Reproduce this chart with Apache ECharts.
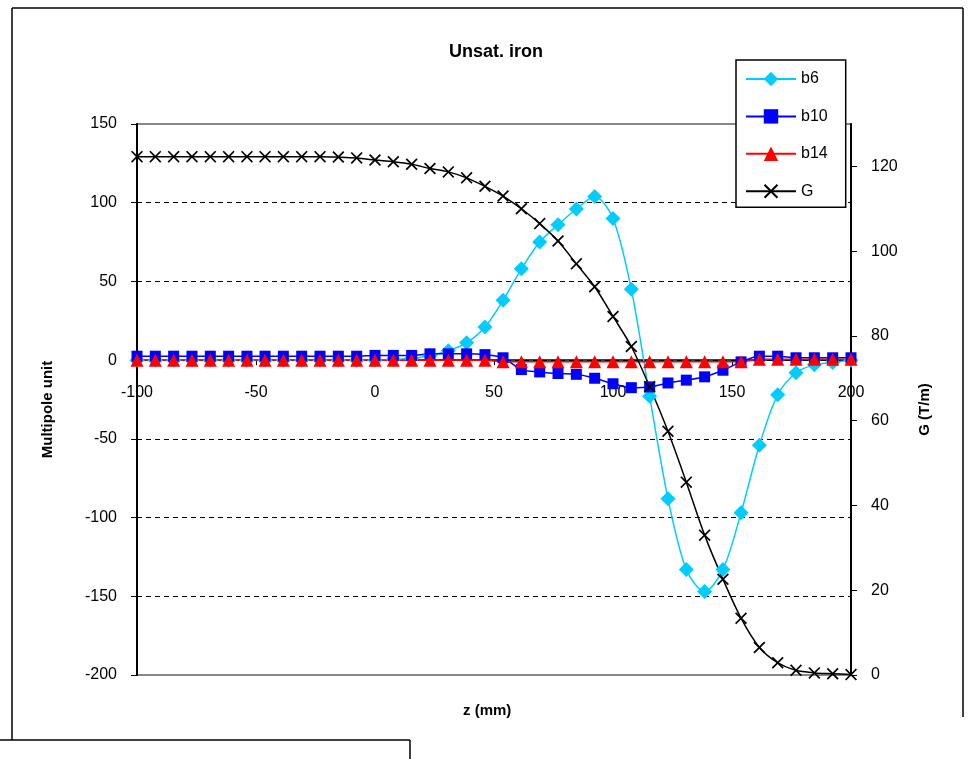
<!DOCTYPE html>
<html>
<head>
<meta charset="utf-8">
<script src="https://cdn.jsdelivr.net/npm/echarts@6/dist/echarts.min.js"></script>
<style>html,body{margin:0;padding:0;background:#fff;}#c{width:973px;height:759px;}</style>
</head>
<body>
<div id="c"></div>
<script>
// z positions (mm)
var zValues = [-100, -92.3, -84.6, -76.9, -69.2, -61.5, -53.8, -46.2, -38.5, -30.8,
  -23.1, -15.4, -7.7, 0, 7.7, 15.4, 23.1, 30.8, 38.5, 46.2,
  53.8, 61.5, 69.2, 76.9, 84.6, 92.3, 100, 107.7, 115.4, 123.1,
  130.8, 138.5, 146.2, 153.8, 161.5, 169.2, 176.9, 184.6, 192.3, 200];
var b6 = [0, 0, 0, 0, 0, 0, 0, 0, 0, 0,
  0, 0, 0, 0, 0.5, 1, 3, 6, 11, 21,
  38, 58, 75, 86, 96, 104, 90, 45, -23, -88,
  -133, -147, -133, -97, -54, -22, -8, -3, -1.5, 0];
var b10 = [2.5, 2.5, 2.5, 2.5, 2.5, 2.5, 2.5, 2.5, 2.5, 2.5,
  2.5, 2.5, 2.5, 3, 3, 3, 4, 4, 4, 3.5,
  1.5, -6, -7.5, -8.5, -9, -11.5, -15, -17.5, -17, -14.5,
  -12.7, -10.6, -6.4, -1.1, 2.5, 2.5, 1.5, 1.5, 1.5, 1.5];
var b14 = [0, 0, 0, 0, 0, 0, 0, 0, 0, 0,
  0, 0, 0, 0, 0, 0, 0, 0, 0, 0,
  -1, -1, -1, -1, -1, -1, -1, -1, -1, -1,
  -1, -1, -1, -1, 0.5, 0.5, 0.5, 0.5, 0.5, 0.5];
var G = [122.3, 122.3, 122.3, 122.3, 122.3, 122.3, 122.3, 122.3, 122.3, 122.3,
  122.3, 122.2, 122, 121.5, 121.1, 120.5, 119.5, 118.7, 117.3, 115.3,
  113, 110, 106.5, 102.4, 97, 91.6, 84.6, 77.5, 68, 57.5,
  45.5, 33, 22.6, 13.4, 6.5, 2.9, 1.1, 0.5, 0.3, 0.1];
var xTicks = {min: -100, max: 200, interval: 50};
var yLeftTicks = {min: -200, max: 150, interval: 50};
var yRightTicks = {min: 0, max: 130, interval: 20};

function pairs(vals) { return zValues.map(function (z, i) { return [z, vals[i]]; }); }

var crossPath = 'path://M0,1 L1,0 L5,4 L9,0 L10,1 L6,5 L10,9 L9,10 L5,6 L1,10 L0,9 L4,5 Z';
var FONT = '"Liberation Sans", Arial, sans-serif';

var GRID = {left: 137, right: 122, top: 124, bottom: 84};
var plotH = 759 - GRID.top - GRID.bottom;
// x axis crosses the left value axis at zero
var xAxisOffset = -plotH * (0 - yLeftTicks.min) / (yLeftTicks.max - yLeftTicks.min);

var chart = echarts.init(document.getElementById('c'), null, {renderer: 'canvas'});
chart.setOption({
  animation: false,
  backgroundColor: '#fff',
  textStyle: {fontFamily: FONT},
  title: {
    text: 'Unsat. iron', left: 444, top: 38,
    textStyle: {fontFamily: FONT, fontSize: 18, fontWeight: 'bold', color: '#000'}
  },
  grid: {left: GRID.left, right: GRID.right, top: GRID.top, bottom: GRID.bottom, show: true, borderColor: '#888', borderWidth: 2, backgroundColor: 'transparent'},
  legend: {
    orient: 'vertical', left: 736, top: 60,
    padding: [11, 18, 8, 9],
    itemWidth: 50, itemHeight: 18, itemGap: 21.4,
    borderColor: '#000', borderWidth: 1.5, backgroundColor: '#fff',
    textStyle: {fontFamily: FONT, fontSize: 16, color: '#000'},
    data: ['b6', 'b10', 'b14', 'G']
  },
  xAxis: {
    type: 'value', min: xTicks.min, max: xTicks.max, interval: xTicks.interval,
    position: 'bottom', offset: xAxisOffset,
    axisLine: {onZero: false, lineStyle: {color: '#000', width: 1.5}},
    axisTick: {show: true, length: 5, lineStyle: {color: '#000'}},
    axisLabel: {margin: 24, fontSize: 16, color: '#000', fontFamily: FONT},
    splitLine: {show: false}
  },
  yAxis: [{
    type: 'value', min: yLeftTicks.min, max: yLeftTicks.max, interval: yLeftTicks.interval,
    name: 'Multipole unit', nameLocation: 'middle', nameGap: 82, nameRotate: 90,
    nameTextStyle: {fontFamily: FONT, fontSize: 15, fontWeight: 'bold', color: '#000', padding: [0, 20, 0, 0]},
    axisLine: {show: true, onZero: false, lineStyle: {color: '#000', width: 2}},
    axisTick: {show: true, length: 6, lineStyle: {color: '#000'}},
    axisLabel: {margin: 20, fontSize: 16, color: '#000', fontFamily: FONT},
    splitLine: {show: true, lineStyle: {color: ['#888', '#000', '#000', '#000', '#000', '#000', '#000', '#888'], type: [5, 4], width: 1.2}}
  }, {
    type: 'value', min: yRightTicks.min, max: yRightTicks.max, interval: yRightTicks.interval,
    position: 'right',
    name: 'G (T/m)', nameLocation: 'middle', nameGap: 66, nameRotate: 90,
    nameTextStyle: {fontFamily: FONT, fontSize: 15, fontWeight: 'bold', color: '#000', padding: [0, 20, 0, 0]},
    axisLine: {show: true, onZero: false, lineStyle: {color: '#000', width: 2}},
    axisTick: {show: true, length: 6, lineStyle: {color: '#000'}},
    axisLabel: {margin: 20, fontSize: 16, color: '#000', fontFamily: FONT, showMaxLabel: false},
    splitLine: {show: false}
  }],
  series: [{
    name: 'b6', type: 'line', data: pairs(b6), smooth: 0.3,
    symbol: 'diamond', symbolSize: 15,
    lineStyle: {color: '#00CCFF', width: 1.5}, itemStyle: {color: '#00CCFF'}
  }, {
    name: 'b10', type: 'line', data: pairs(b10), smooth: 0.3,
    symbol: 'rect', symbolSize: 11,
    lineStyle: {color: '#0000FF', width: 1.5}, itemStyle: {color: '#0000FF'}
  }, {
    name: 'b14', type: 'line', data: pairs(b14), smooth: 0.3,
    symbol: 'triangle', symbolSize: 13,
    lineStyle: {color: '#FF0000', width: 1.5}, itemStyle: {color: '#FF0000'}
  }, {
    name: 'G', type: 'line', yAxisIndex: 1, data: pairs(G), smooth: 0.3,
    symbol: crossPath, symbolSize: 12,
    lineStyle: {color: '#000', width: 1.5}, itemStyle: {color: '#000'}
  }],
  graphic: [
    {type: 'text', left: 463, top: 703, style: {text: 'z (mm)', fontFamily: FONT, fontSize: 15, fontWeight: 'bold', fill: '#000'}},
    {type: 'line', shape: {x1: 12, y1: 8, x2: 963, y2: 8}, style: {stroke: '#000', lineWidth: 1.5}},
    {type: 'line', shape: {x1: 12, y1: 8, x2: 12, y2: 740}, style: {stroke: '#000', lineWidth: 1.5}},
    {type: 'line', shape: {x1: 963, y1: 8, x2: 963, y2: 717}, style: {stroke: '#000', lineWidth: 1.5}},
    {type: 'line', shape: {x1: 0, y1: 740, x2: 410, y2: 740}, style: {stroke: '#000', lineWidth: 1.5}},
    {type: 'line', shape: {x1: 410, y1: 740, x2: 410, y2: 759}, style: {stroke: '#000', lineWidth: 1.5}}
  ]
});
</script>
</body>
</html>
